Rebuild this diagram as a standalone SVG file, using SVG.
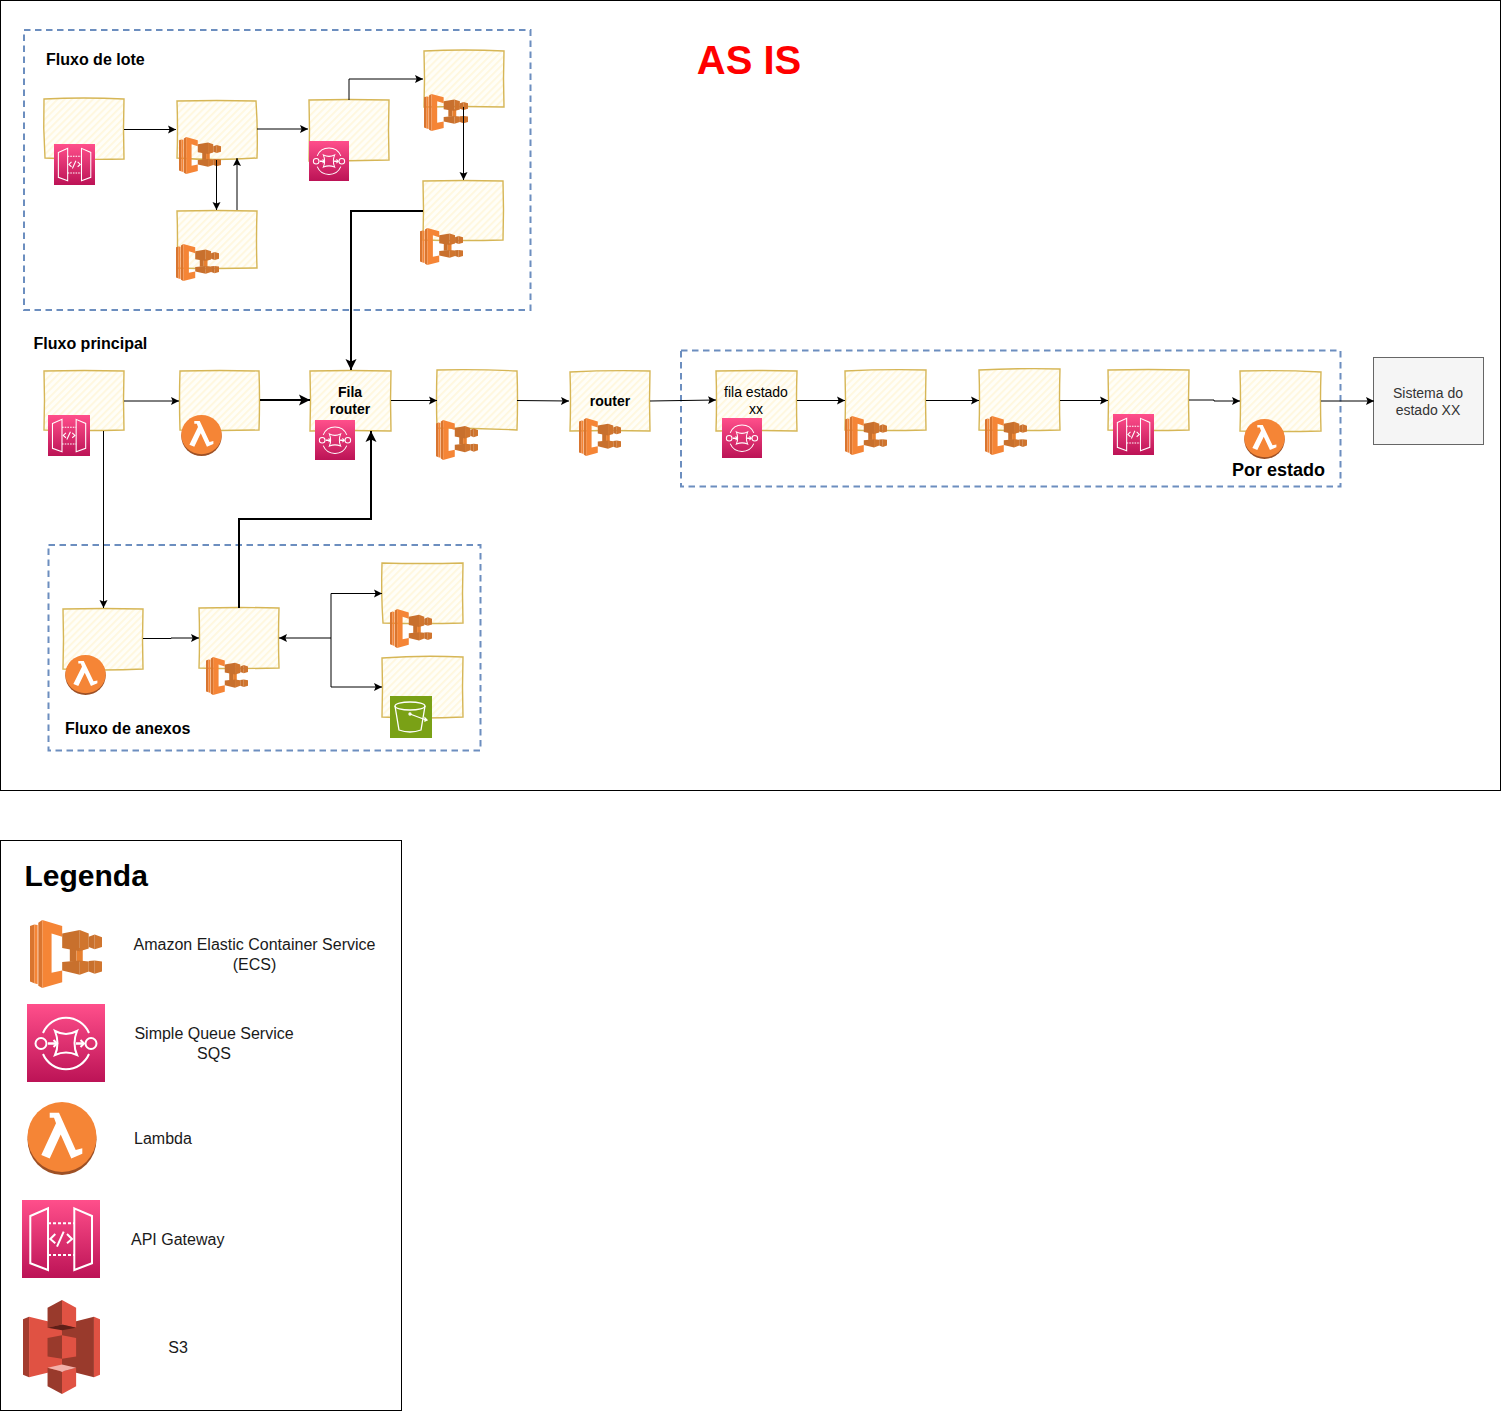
<svg xmlns="http://www.w3.org/2000/svg" xmlns:xlink="http://www.w3.org/1999/xlink" width="1501" height="1411" viewBox="0 0 1501 1411">
<style>
text{font-family:"Liberation Sans",Arial,sans-serif;fill:#000}
.b{font-weight:bold}
.m{text-anchor:middle}
.s14{font-size:14px}
.s16{font-size:16px}
.l{fill:#1a1a1a}
.frame{fill:none;stroke:#000;stroke-width:1}
.dash{fill:none;stroke:#6c8ebf;stroke-width:2;stroke-dasharray:6.500 4.500}
.sk{fill:url(#hatch);stroke:#d6b656;stroke-width:1.400}
.c{fill:none;stroke:#000;stroke-width:1;marker-end:url(#arr)}
.t{fill:none;stroke:#000;stroke-width:2;marker-end:url(#arrT)}
</style>
<defs>
<pattern id="hatch" patternUnits="userSpaceOnUse" width="5" height="5" patternTransform="rotate(-45)">
<rect width="5" height="5" fill="#fffef8"/><rect width="5" height="1.800" fill="#fff7dd"/>
</pattern>
<marker id="arr" markerUnits="userSpaceOnUse" markerWidth="9" markerHeight="9" refX="8" refY="4.500" orient="auto"><path d="M0 .5 8 4.500 0 8.500 1.600 4.500Z" fill="#000"/></marker>
<marker id="arrT" markerUnits="userSpaceOnUse" markerWidth="12" markerHeight="12" refX="11" refY="6" orient="auto"><path d="M0 .5 11 6 0 11.500 2.400 6Z" fill="#000"/></marker>
<linearGradient id="pink" x1="0" y1="0" x2="0" y2="1"><stop offset="0" stop-color="#ff4f8b"/><stop offset="1" stop-color="#bc1356"/></linearGradient>
<symbol id="ecs" viewBox="15 15 217 202" preserveAspectRatio="none">
<path d="M15 33 28 28V203L15 198Z" fill="#d9752f"/><path d="M28 28 38 30V206L28 203Z" fill="#f58536"/>
<path d="M40 23 52 15V217L40 210Z" fill="#d9752f"/>
<path d="M52 15 112 33V65L80 55V172L112 165V200L52 217Z" fill="#f58536"/>
<path d="M135 98H155V139H135Z" fill="#c8702d"/><path d="M155 98H174V139H155Z" fill="#e8802f"/>
<path d="M112 55 165 45V108L112 98Z" fill="#c8702d"/><path d="M165 45 192 55V100L165 108Z" fill="#d0752e"/>
<path d="M192 65 210 58V102L192 95Z" fill="#c8702d"/><path d="M210 58 232 66V95L210 102Z" fill="#d0752e"/>
<path d="M112 140 165 135V178L112 165Z" fill="#c8702d"/><path d="M165 135 192 138V168L165 178Z" fill="#d0752e"/>
<path d="M192 137 210 135V175L192 168Z" fill="#c8702d"/><path d="M210 135 232 138V168L210 175Z" fill="#d0752e"/>
</symbol>
<symbol id="sqs" viewBox="0 0 78 78" preserveAspectRatio="none">
<rect width="78" height="78" fill="url(#pink)"/>
<g fill="none" stroke="#fff" stroke-width="2">
<path d="M16 29A25 25 0 0 1 62 29M62 50A25 25 0 0 1 16 50"/>
<circle cx="14" cy="39.500" r="5.500"/><circle cx="64" cy="39.500" r="5.500"/>
<path d="M28 27Q39 33 50 27Q45 39.500 50 51Q39 46 28 51Q33 39.500 28 27Z"/>
<path d="M21 39.500H30M49 39.500H57" stroke-width="2.500"/><path d="M26.500 36 30 39.500 26.500 43M53.500 36 57 39.500 53.500 43" stroke-width="2"/>
</g>
</symbol>
<symbol id="api" viewBox="0 0 78 78" preserveAspectRatio="none">
<rect width="78" height="78" fill="url(#pink)"/>
<g fill="none" stroke="#fff" stroke-width="2">
<path d="M8.300 16 26 8.300V70L8.300 63.300ZM52.300 8.300 70 16V63.300L52.300 70Z"/>
<path d="M26 23.300H52.300M26 55H52.300" stroke-dasharray="3 2"/>
<path d="M33.300 34 28.300 39 33.300 43.300M45 34 50 39 45 43.300M41.700 31.700 35 46.700"/>
</g>
</symbol>
<symbol id="lambda" viewBox="0 0 70 72" preserveAspectRatio="none">
<ellipse cx="35" cy="37" rx="34.500" ry="35" fill="#9d5025"/>
<circle cx="35" cy="34.500" r="34.500" fill="#f58536"/>
<path d="M22.700 10.700H32L48.700 47.300 55.300 45.700V51L44.300 55.700 33.700 32 22.700 55.700 14.300 52.300 29 21 27 15.500H22.700Z" fill="#fff"/>
</symbol>
<symbol id="s3" viewBox="24 15 229 280" preserveAspectRatio="none">
<path d="M24 72 42 65V245L24 238Z" fill="#a33c2e"/>
<path d="M42 65 97 78 140 88V225L97 232 42 245Z" fill="#e05243"/>
<path d="M140 88 182 78 235 65V245L182 232 140 225Z" fill="#993a2c"/>
<path d="M235 65 253 72V238L235 245Z" fill="#e05243"/>
<path d="M97 38 140 15V88L97 98Z" fill="#993a2c"/><path d="M140 15 182 38V98L140 88Z" fill="#e05243"/>
<path d="M97 98 140 88 182 98 140 105Z" fill="#5e1f18"/>
<path d="M97 128 140 120V190L97 183Z" fill="#993a2c"/><path d="M140 120 182 128V183L140 190Z" fill="#e05243"/>
<path d="M97 217 140 228V295L97 272Z" fill="#993a2c"/><path d="M140 228 182 217V272L140 295Z" fill="#e05243"/>
<path d="M97 217 140 207 182 217 140 228Z" fill="#f2b0a9"/>
</symbol>
<symbol id="bucket" viewBox="0 0 42 42" preserveAspectRatio="none">
<rect width="42" height="42" fill="#7aa116"/>
<g fill="none" stroke="#fff" stroke-width="1.300">
<ellipse cx="20" cy="10" rx="15" ry="4"/>
<path d="M5 10 9 34Q20 38 31 34L35 10"/>
<path d="M20 18 36 24"/><circle cx="20" cy="18" r="1"/><path d="M35 22 37 24 35 25Z"/>
</g>
</symbol>
</defs>

<rect width="1501" height="1411" fill="#fff"/>
<rect class="frame" x=".5" y=".5" width="1500" height="790"/>
<rect class="frame" x=".5" y="840.500" width="401" height="570"/>
<rect class="dash" x="24" y="30" width="506.500" height="280"/>
<rect class="dash" x="681" y="350.500" width="659.500" height="136"/>
<rect class="dash" x="48.500" y="545" width="432" height="205.500"/>

<text x="749" y="74" class="b m" font-size="40" style="fill:#ff0000">AS IS</text>
<text x="46" y="65" class="b s16">Fluxo de lote</text>
<text x="33.500" y="349" class="b s16">Fluxo principal</text>
<text x="65" y="734" class="b s16">Fluxo de anexos</text>
<text x="1232" y="476" class="b" font-size="18">Por estado</text>

<g id="lote-api"><path class="sk" d="M44 99Q84 97 124 99Q123 128 124 159Q84 160 45 158Q43 128 44 99Z"/><use href="#api" x="54" y="144" width="41" height="41"/></g>
<g id="lote-ecs1"><path class="sk" d="M177 101Q217 100 256 101Q258 130 257 158Q217 161 177 158Q178 130 177 101Z"/><use href="#ecs" x="179" y="137" width="42" height="37"/></g>
<g id="lote-sqs"><path class="sk" d="M309 100Q349 99 389 100Q388 130 389 160Q349 161 309 161Q310 130 309 100Z"/><use href="#sqs" x="309" y="141" width="40" height="40"/></g>
<g id="lote-ecs3"><path class="sk" d="M424 51Q464 49 504 51Q503 78 504 107Q464 106 424 107Q425 78 424 51Z"/><use href="#ecs" x="424" y="94" width="44" height="37"/></g>
<g id="lote-ecs4"><path class="sk" d="M423 181Q463 180 503 181Q504 210 503 240Q463 241 423 240Q424 210 423 181Z"/><use href="#ecs" x="420" y="228" width="43" height="37"/></g>
<g id="lote-ecs2"><path class="sk" d="M177 211Q217 210 257 211Q256 240 257 268Q217 269 177 268Q178 240 177 211Z"/><use href="#ecs" x="176" y="244" width="43" height="37"/></g>

<g id="main-api"><path class="sk" d="M44 371Q84 370 124 371Q123 400 124 430Q84 431 44 430Q45 400 44 371Z"/><use href="#api" x="48" y="415" width="42" height="41"/></g>
<g id="main-lambda"><path class="sk" d="M180 371Q220 370 259 371Q260 400 259 430Q220 431 180 430Q179 400 180 371Z"/><use href="#lambda" x="181" y="415" width="41" height="41"/></g>
<g id="fila-router"><path class="sk" d="M310 371Q350 370 391 371Q390 400 391 431Q350 430 310 431Q311 400 310 371Z"/><text x="350" y="397" class="b m s14">Fila</text><text x="350" y="414" class="b m s14">router</text><use href="#sqs" x="315" y="420" width="40" height="40"/></g>
<g id="main-ecs"><path class="sk" d="M437 370Q477 369 517 371Q518 400 517 430Q477 428 437 428Q436 400 437 370Z"/><use href="#ecs" x="436" y="420" width="42" height="40"/></g>
<g id="router"><path class="sk" d="M570 372Q610 370 650 371Q649 400 650 431Q610 430 570 431Q571 400 570 372Z"/><text x="610" y="406" class="b m s14">router</text><use href="#ecs" x="579" y="418" width="42" height="38"/></g>
<g id="fila-estado"><path class="sk" d="M716 371Q756 370 797 371Q796 400 797 431Q756 430 716 431Q717 400 716 371Z"/><text x="756" y="397" class="m s14">fila estado</text><text x="756" y="414" class="m s14">xx</text><use href="#sqs" x="722" y="418" width="40" height="40"/></g>
<g id="estado-ecs1"><path class="sk" d="M845 371Q885 369 926 370Q925 400 926 430Q885 431 845 430Q846 400 845 371Z"/><use href="#ecs" x="845" y="416" width="42" height="39"/></g>
<g id="estado-ecs2"><path class="sk" d="M979 370Q1019 368 1060 369Q1059 400 1060 430Q1019 431 979 430Q980 400 979 370Z"/><use href="#ecs" x="985" y="416" width="42" height="39"/></g>
<g id="estado-api"><path class="sk" d="M1108 370Q1148 369 1189 370Q1188 400 1189 430Q1148 431 1108 430Q1109 400 1108 370Z"/><use href="#api" x="1113" y="414" width="41" height="41"/></g>
<g id="estado-lambda"><path class="sk" d="M1240 371Q1280 370 1321 372Q1320 400 1321 431Q1280 432 1240 431Q1241 400 1240 371Z"/><use href="#lambda" x="1244" y="419" width="41" height="40"/></g>
<g id="sistema"><rect x="1373.500" y="357.500" width="110" height="87" fill="#f5f5f5" stroke="#666"/><text x="1428" y="398" class="m s14" style="fill:#333">Sistema do</text><text x="1428" y="415" class="m s14" style="fill:#333">estado XX</text></g>

<g id="anexo-lambda"><path class="sk" d="M63 609Q103 608 143 609Q142 640 143 669Q103 671 63 669Q64 640 63 609Z"/><use href="#lambda" x="65" y="655" width="41" height="40"/></g>
<g id="anexo-ecs1"><path class="sk" d="M199 608Q239 607 279 608Q278 638 279 668Q239 669 199 668Q200 638 199 608Z"/><use href="#ecs" x="206" y="657" width="42" height="38"/></g>
<g id="anexo-ecs2"><path class="sk" d="M382 563Q422 564 463 563Q462 594 463 623Q422 624 383 623Q381 594 382 563Z"/><use href="#ecs" x="390" y="609" width="42" height="39"/></g>
<g id="anexo-s3"><path class="sk" d="M382 658Q422 655 463 657Q462 688 463 717Q422 719 382 717Q383 688 382 658Z"/><use href="#bucket" x="390" y="696" width="42" height="42"/></g>

<g id="connectors">
<path class="c" d="M124 129.500H176"/>
<path class="c" d="M257 129H308"/>
<path class="c" d="M349 100V79H423"/>
<path class="c" d="M463.500 107V180"/>
<path class="c" d="M216.500 160V210"/>
<path class="c" d="M237 210V158"/>
<path class="t" d="M423 211H351V370"/>
<path class="c" d="M124 401H179"/>
<path class="t" d="M260 400H310"/>
<path class="c" d="M391 400.500H437"/>
<path class="c" d="M517 400.500 569 401"/>
<path class="c" d="M650 401 716 400"/>
<path class="c" d="M797 400.500H845"/>
<path class="c" d="M926 400.500H979"/>
<path class="c" d="M1060 400.500H1108"/>
<path class="c" d="M1189 400H1214V401H1240"/>
<path class="c" d="M1321 401H1374"/>
<path class="c" d="M103.500 431V608"/>
<path class="c" d="M143 638.500H171V638H199"/>
<path class="t" d="M239 608V519H371V431"/>
<path class="c" d="M331 638H279"/>
<path class="c" d="M331 638V593.500H382"/>
<path class="c" d="M331 638V687H382"/>
</g>

<g id="legenda">
<text x="24.500" y="886" class="b" font-size="30">Legenda</text>
<use href="#ecs" x="30" y="920" width="72" height="68"/>
<text x="254.500" y="950" class="m s16 l">Amazon Elastic Container Service</text>
<text x="254.500" y="970" class="m s16 l">(ECS)</text>
<use href="#sqs" x="27" y="1004" width="78" height="78"/>
<text x="214" y="1039" class="m s16 l">Simple Queue Service</text>
<text x="214" y="1059" class="m s16 l">SQS</text>
<use href="#lambda" x="27" y="1102" width="70" height="73"/>
<text x="134" y="1144" class="s16 l">Lambda</text>
<use href="#api" x="22" y="1200" width="78" height="78"/>
<text x="131" y="1245" class="s16 l">API Gateway</text>
<use href="#s3" x="23" y="1300" width="77" height="94"/>
<text x="178" y="1353" class="m s16 l">S3</text>
</g>
</svg>
